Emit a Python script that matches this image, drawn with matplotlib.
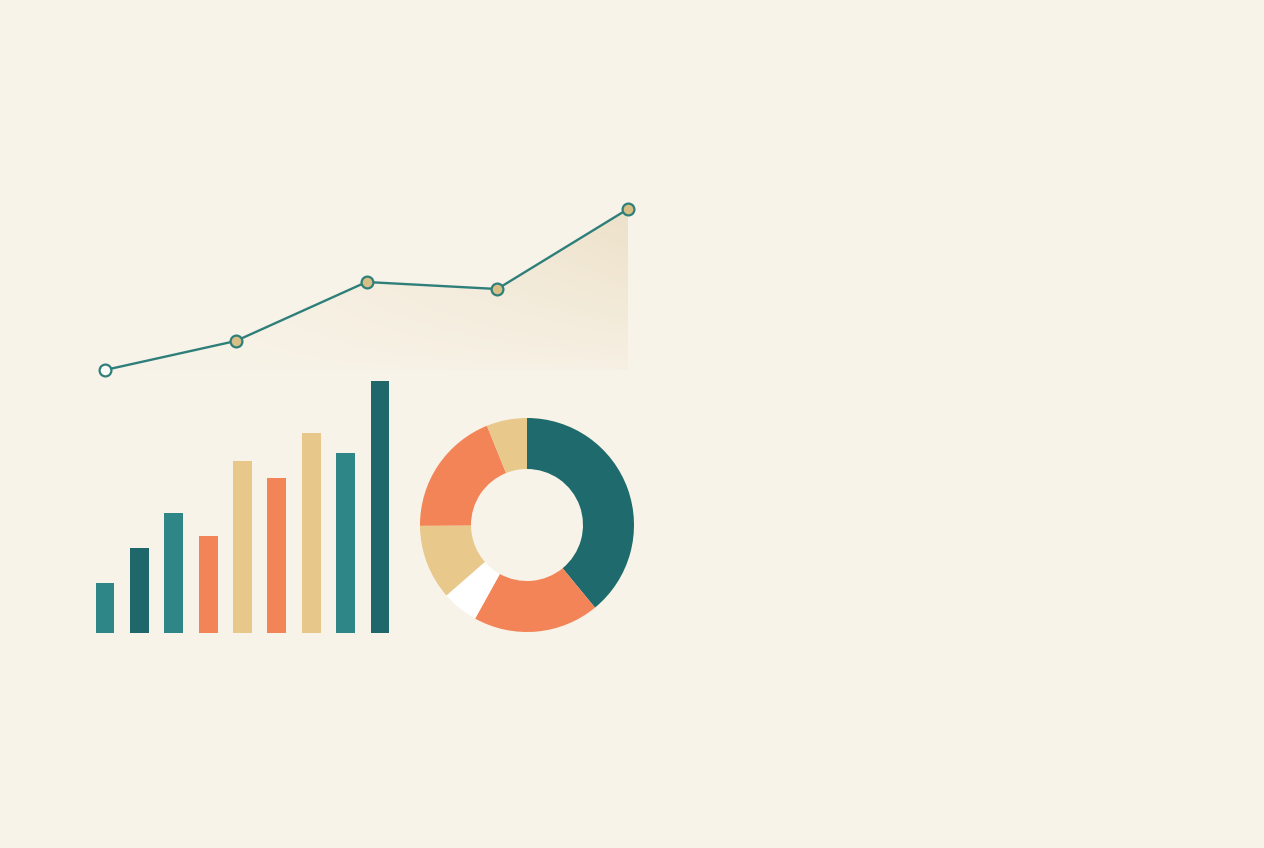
import numpy as np
import matplotlib.pyplot as plt
from matplotlib.colors import LinearSegmentedColormap

# line series
line_x = [0, 1, 2, 3, 4]
line_y = [12, 23.6, 47.2, 44.4, 76.4]

# bar series
bar_x = list(range(9))
bar_h = [20, 34, 48, 39, 69, 62, 80, 72, 101]
bar_c = ['#2e8786', '#1f676a', '#2e8786', '#f38457', '#e8c78a',
         '#f38457', '#e8c78a', '#2e8786', '#1f676a']

# donut shares (clockwise from 12 o'clock)
pie_v = [39, 19, 5.5, 11.3, 19, 6.1]
pie_c = ['#1f6a6c', '#f38457', '#ffffff', '#e8c88b', '#f38457', '#e8c88b']

BG = '#f8f3e8'
TEAL = '#2e7f7a'

W, H = 1264, 848
fig = plt.figure(figsize=(W / 100, H / 100), dpi=100, facecolor=BG)


def px_axes(left, top, right, bottom):
    return fig.add_axes([left / W, 1 - bottom / H, (right - left) / W, (bottom - top) / H])


# --- line with gradient fill ---
ax = px_axes(90, 190, 645, 400)
ax.set_xlim(-15 / 130.75, 4 + 17 / 130.75)
ax.set_ylim(0, 84)
ax.axis('off')
ax.patch.set_alpha(0)

cmap = LinearSegmentedColormap.from_list('g', [BG, '#ede1c9'])
poly = ax.fill_between(line_x, line_y, line_y[0], color='none', lw=0)
gx = np.linspace(0, 1, 200)
gy = np.linspace(0, 1, 200)
GX, GY = np.meshgrid(gx, gy)
grad = (GX ** 1.3) * (0.1 + 0.9 * GY ** 0.8)
img = ax.imshow(grad, cmap=cmap, extent=[0, 4, line_y[0], max(line_y)],
                origin='lower', aspect='auto', zorder=1, vmin=0, vmax=1)
img.set_clip_path(poly.get_paths()[0], transform=ax.transData)

ax.plot(line_x, line_y, color=TEAL, lw=1.7, zorder=3)
ax.plot(line_x[1:], line_y[1:], 'o', ms=8.5, mfc='#d8bf86', mec=TEAL, mew=1.6, zorder=4)
ax.plot(line_x[:1], line_y[:1], 'o', ms=8.5, mfc='#fdfbf6', mec=TEAL, mew=1.6, zorder=4)

# --- bars ---
ax2 = px_axes(85, 363, 400, 633)
ax2.set_xlim(-20 / 34.375, 8 + 20 / 34.375)
ax2.set_ylim(0, 108)
ax2.axis('off')
ax2.patch.set_alpha(0)
ax2.bar(bar_x, bar_h, width=0.55, color=bar_c)

# --- donut ---
R = 107
ax3 = px_axes(527 - R * 1.05, 525 - R * 1.05, 527 + R * 1.05, 525 + R * 1.05)
ax3.pie(pie_v, colors=pie_c, startangle=90, counterclock=False, radius=1,
        wedgeprops=dict(width=1 - 56 / 107, edgecolor='none'))
ax3.set_xlim(-1.05, 1.05)
ax3.set_ylim(-1.05, 1.05)
ax3.set_aspect('equal')
ax3.axis('off')

fig.savefig('out.png', dpi=100, facecolor=BG)
